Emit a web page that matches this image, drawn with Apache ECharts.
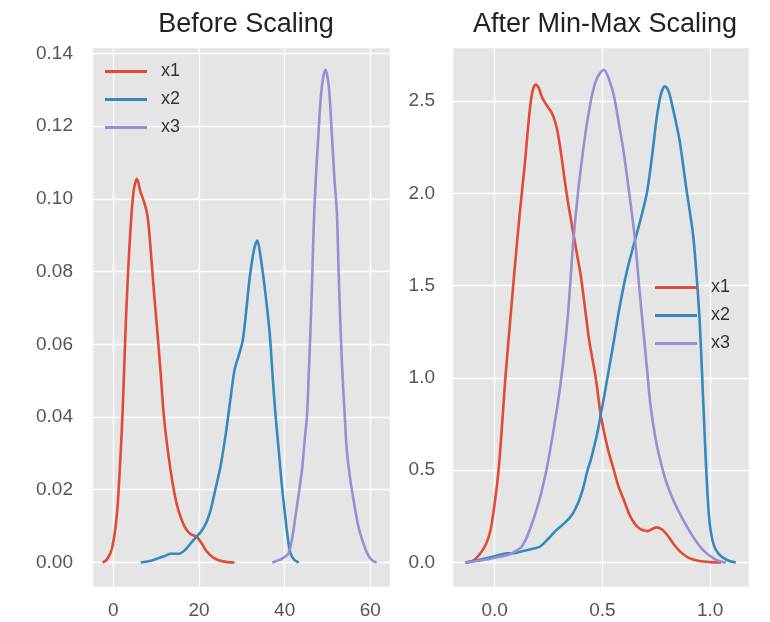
<!DOCTYPE html>
<html>
<head>
<meta charset="utf-8">
<script src="https://cdn.jsdelivr.net/npm/echarts@6/dist/echarts.min.js"></script>
<style>
html,body{margin:0;padding:0;background:#fff;}
#chart{width:770px;height:622px;}
</style>
</head>
<body>
<div id="chart"></div>
<script>
// ---- data ----
const seriesNames = ['x1', 'x2', 'x3'];
const titles = ['Before Scaling', 'After Min-Max Scaling'];

// Before scaling: [value, density]
const beforeX1 = [[-2.5,0],[-1.5,0.0008],[-0.3,0.004],[0.8,0.013],[1.6,0.028],[2.2,0.043],[2.9,0.066],[3.8,0.088],[4.7,0.102],[5.5,0.1055],[6.3,0.102],[7.2,0.099],[8.0,0.095],[8.7,0.086],[9.5,0.074],[10.3,0.063],[11.1,0.051],[11.8,0.040],[12.8,0.030],[13.8,0.022],[14.8,0.016],[15.7,0.0125],[16.8,0.0095],[18.0,0.0078],[19.5,0.0070],[20.5,0.0055],[21.8,0.003],[23.5,0.0012],[25.5,0.0003],[28.3,0]];
const beforeX2 = [[6.4,0],[8.5,0.0004],[10.3,0.0011],[12,0.0018],[13.4,0.0024],[15.3,0.0024],[16.8,0.0035],[18.0,0.0052],[19.5,0.0072],[20.5,0.0085],[21.7,0.011],[22.7,0.0144],[23.8,0.020],[25.0,0.0263],[26.2,0.035],[27.3,0.0446],[28.3,0.053],[29.3,0.057],[30.2,0.061],[31.0,0.069],[31.8,0.078],[32.8,0.0858],[33.6,0.0885],[34.5,0.083],[35.5,0.074],[36.5,0.063],[37.2,0.051],[37.9,0.040],[38.6,0.031],[39.3,0.0217],[40.0,0.014],[40.6,0.008],[41.3,0.0028],[42.2,0.0008],[43.3,0]];
const beforeX3 = [[37.1,0],[38.5,0.0006],[39.6,0.0012],[40.9,0.0025],[41.8,0.007],[42.5,0.0125],[43.3,0.019],[44.1,0.026],[44.7,0.034],[45.2,0.040],[45.6,0.051],[46.0,0.063],[46.4,0.077],[46.8,0.093],[47.3,0.106],[47.9,0.118],[48.6,0.130],[49.5,0.1355],[50.3,0.131],[51.0,0.118],[51.6,0.106],[52.2,0.096],[52.6,0.08],[53.0,0.066],[53.4,0.054],[54.0,0.041],[54.5,0.031],[55.3,0.023],[56.1,0.0171],[57.2,0.010],[58.4,0.0052],[59.5,0.002],[60.4,0.0006],[61.5,0]];

// After min-max scaling: [scaled value, density]
const afterX1 = [[-0.135,0],[-0.1,0.01],[-0.066,0.05],[-0.04,0.10],[-0.02,0.17],[0.0,0.32],[0.018,0.5],[0.034,0.74],[0.049,0.99],[0.072,1.31],[0.095,1.62],[0.117,1.90],[0.14,2.16],[0.16,2.42],[0.175,2.55],[0.19,2.59],[0.205,2.57],[0.22,2.52],[0.24,2.48],[0.263,2.44],[0.28,2.39],[0.294,2.32],[0.31,2.20],[0.325,2.07],[0.339,1.96],[0.355,1.85],[0.37,1.75],[0.385,1.65],[0.40,1.55],[0.42,1.37],[0.439,1.2],[0.469,1.0],[0.492,0.80],[0.523,0.625],[0.553,0.5],[0.575,0.41],[0.599,0.34],[0.625,0.26],[0.65,0.21],[0.676,0.18],[0.71,0.17],[0.75,0.19],[0.775,0.18],[0.80,0.15],[0.83,0.10],[0.86,0.06],[0.90,0.025],[0.95,0.008],[1.0,0.002],[1.05,0]];
const afterX2 = [[-0.135,0],[-0.08,0.012],[-0.03,0.025],[0.02,0.04],[0.06,0.05],[0.087,0.05],[0.12,0.058],[0.148,0.066],[0.18,0.075],[0.209,0.085],[0.25,0.13],[0.286,0.175],[0.33,0.22],[0.36,0.26],[0.378,0.30],[0.393,0.34],[0.412,0.41],[0.431,0.5],[0.447,0.56],[0.461,0.625],[0.476,0.70],[0.492,0.80],[0.508,0.90],[0.523,1.0],[0.538,1.10],[0.553,1.20],[0.576,1.36],[0.599,1.50],[0.62,1.61],[0.645,1.72],[0.675,1.85],[0.706,2.0],[0.73,2.20],[0.752,2.41],[0.772,2.54],[0.79,2.58],[0.808,2.55],[0.825,2.47],[0.842,2.38],[0.859,2.28],[0.89,2.02],[0.92,1.78],[0.937,1.55],[0.951,1.31],[0.963,1.0],[0.974,0.70],[0.985,0.42],[0.997,0.22],[1.015,0.10],[1.04,0.045],[1.08,0.012],[1.119,0]];
const afterX3 = [[-0.135,0],[-0.08,0.008],[-0.02,0.02],[0.03,0.032],[0.06,0.04],[0.095,0.06],[0.125,0.085],[0.15,0.14],[0.179,0.23],[0.21,0.35],[0.24,0.5],[0.265,0.66],[0.29,0.84],[0.307,0.98],[0.324,1.15],[0.339,1.33],[0.35,1.5],[0.362,1.70],[0.375,1.87],[0.39,2.04],[0.41,2.23],[0.431,2.40],[0.455,2.55],[0.477,2.63],[0.507,2.67],[0.53,2.62],[0.553,2.53],[0.576,2.38],[0.599,2.22],[0.62,2.04],[0.64,1.86],[0.653,1.73],[0.67,1.50],[0.691,1.24],[0.706,1.06],[0.722,0.86],[0.745,0.68],[0.767,0.56],[0.795,0.44],[0.828,0.34],[0.87,0.24],[0.92,0.14],[0.965,0.07],[1.012,0.025],[1.04,0.008],[1.073,0]];

const beforeData = [beforeX1, beforeX2, beforeX3];
const afterData = [afterX1, afterX2, afterX3];

// ---- styles ----
const colors = ['#E24A33', '#348ABD', '#988ED5'];
const FONT = 'Liberation Sans, Arial, sans-serif';
const labelColor = '#555555';

function valueAxis(gridIndex, min, max, splitNumber, digits, margin) {
  return {
    type: 'value', gridIndex, min, max, splitNumber,
    axisLine: {show: false}, axisTick: {show: false},
    splitLine: {show: true, lineStyle: {color: '#ffffff', width: 1.3}},
    axisLabel: {
      color: labelColor, fontSize: 19, fontFamily: FONT, margin,
      showMinLabel: false, showMaxLabel: false,
      formatter: v => v.toFixed(digits)
    }
  };
}

const series = [];
[beforeData, afterData].forEach((set, g) => {
  set.forEach((d, i) => {
    series.push({
      type: 'line', name: seriesNames[i], xAxisIndex: g, yAxisIndex: g,
      data: d, smooth: 0.3, showSymbol: false, symbol: 'none',
      lineStyle: {color: colors[i], width: 2.6}, itemStyle: {color: colors[i]},
      z: 3
    });
  });
});

function legend(left, top) {
  return {
    orient: 'vertical', left, top, data: seriesNames,
    icon: 'rect', itemWidth: 42, itemHeight: 3, itemGap: 9,
    textStyle: {color: '#333', fontSize: 18, fontFamily: FONT, lineHeight: 19, padding: [0, 0, 0, 9]},
    selectedMode: false
  };
}

const option = {
  backgroundColor: '#ffffff',
  animation: false,
  color: colors,
  title: [
    {text: titles[0], left: 241, top: 6, textAlign: 'center',
     textStyle: {fontSize: 27, fontWeight: 'normal', color: '#222', fontFamily: FONT}},
    {text: titles[1], left: 600, top: 6, textAlign: 'center',
     textStyle: {fontSize: 27, fontWeight: 'normal', color: '#222', fontFamily: FONT}}
  ],
  legend: [legend(100, 57), legend(650, 273)],
  grid: [
    {left: 92, top: 47, width: 298, height: 540, show: true, backgroundColor: '#E5E5E5', borderWidth: 0},
    {left: 452, top: 47, width: 297, height: 540, show: true, backgroundColor: '#E5E5E5', borderWidth: 0}
  ],
  xAxis: [
    valueAxis(0, -5.0, 64.6, 3, 0, 14),
    valueAxis(1, -0.198, 1.18, 3, 1, 14)
  ],
  yAxis: [
    valueAxis(0, -0.00675, 0.14175, 7, 2, 19),
    valueAxis(1, -0.133, 2.793, 6, 1, 17)
  ],
  series
};

const chart = echarts.init(document.getElementById('chart'), null, {renderer: 'canvas'});
chart.setOption(option);
</script>
</body>
</html>
